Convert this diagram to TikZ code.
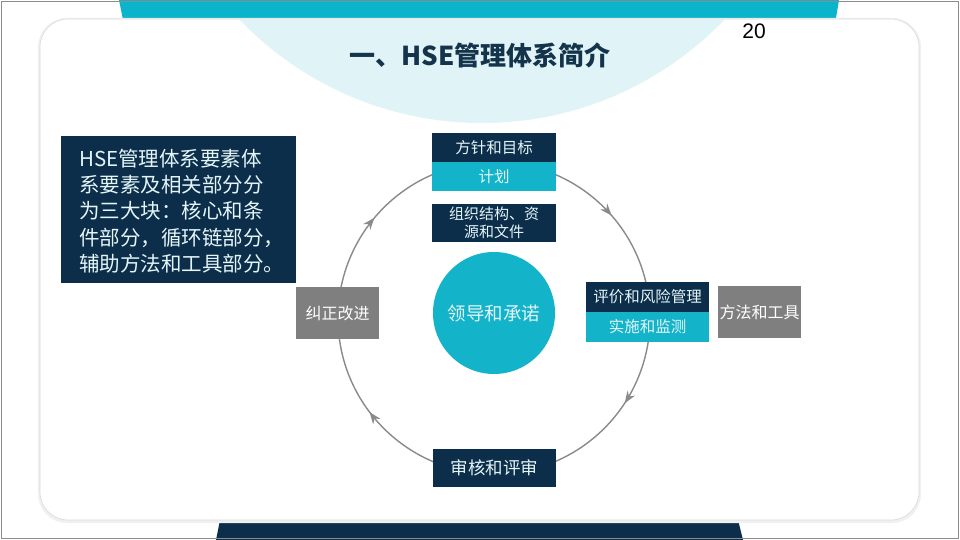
\documentclass[tikz,border=0pt]{standalone}
\usepackage{fontspec}
\newfontfamily\cjk{Noto Sans CJK SC}
\newfontfamily\numfont{Liberation Sans}
\usetikzlibrary{decorations.markings,arrows.meta}
\definecolor{navy}{HTML}{0C2E4A}
\definecolor{teal}{HTML}{13B3C9}
\definecolor{bandteal}{HTML}{0BB3CB}
\definecolor{pale}{HTML}{E0F3F6}
\definecolor{boxgray}{HTML}{7F7F7F}
\definecolor{ringgray}{HTML}{8A8A8A}
\definecolor{titlecol}{HTML}{14344B}
\definecolor{lighttxt}{HTML}{E4F5F8}
\tikzset{
  box/.style={rectangle, inner sep=0pt, text=lighttxt, font=\cjk\fontsize{15.5}{18}\selectfont, align=center},
  navybox/.style={box, fill=navy},
  tealbox/.style={box, fill=teal},
  graybox/.style={box, fill=boxgray, text=white},
  ring/.style={draw=ringgray, line width=1.4pt,
    postaction={decorate},
    decoration={markings,
      mark=at position 0.136 with {\arrow{Stealth[length=12pt,width=9pt]}},
      mark=at position 0.342 with {\arrow{Stealth[length=12pt,width=9pt]}},
      mark=at position 0.647 with {\arrow{Stealth[length=12pt,width=9pt]}},
      mark=at position 0.861 with {\arrow{Stealth[length=12pt,width=9pt]}}}}
}
\begin{document}
\begin{tikzpicture}[x=1pt,y=1pt]
\useasboundingbox (0,0) rectangle (960,-540);
\fill[white] (0,0) rectangle (960,-540);
% top teal band
\fill[bandteal] (119,0) -- (839,0) -- (834,-30) -- (125,-30) -- cycle;
% bottom navy band
\fill[navy] (220,-520) -- (738,-520) -- (743,-540) -- (216,-540) -- cycle;
% card shadow and card
\fill[black!6, rounded corners=29pt] (38,-18) rectangle (921,-523);
\fill[white, draw=black!15, line width=0.6pt, rounded corners=28pt] (40,-19) rectangle (919,-520);
% pale circle inside card
\begin{scope}
  \clip[rounded corners=28pt] (40,-19) rectangle (919,-520);
  \fill[pale] (482,213) circle[radius=336];
\end{scope}
% outer frame
\draw[black!45, line width=0.8pt] (1,-1) rectangle (958,-538);
% page number
\node[font=\numfont\fontsize{21}{24}\selectfont, text=black] (pnum) at (754,-31) {20};
% title
\node[font=\cjk\bfseries\fontsize{26}{30}\selectfont, text=titlecol] (title) at (480,-55) {一、HSE管理体系简介};
% ring
\coordinate (ringc) at (494,-318);
\draw[ring] (ringc) ++(90:156) arc[start angle=90, end angle=-270, radius=156];
% boxes
\node[navybox, minimum width=124pt, minimum height=29pt] (aim) at (494,-147.5) {方针和目标};
\node[tealbox, minimum width=124pt, minimum height=29pt] (plan) at (494,-176.5) {计划};
\node[navybox, minimum width=124pt, minimum height=38pt, font=\cjk\fontsize{15}{18}\selectfont] (org) at (494,-223) {组织结构、资\\源和文件};
\node[circle, fill=teal, minimum size=122pt, inner sep=0pt, text=lighttxt, font=\cjk\fontsize{18.5}{22}\selectfont] (lead) at (494,-313) {领导和承诺};
\node[navybox, minimum width=123pt, minimum height=30pt] (evalt) at (647.5,-297) {评价和风险管理};
\node[tealbox, minimum width=123pt, minimum height=30pt] (evalb) at (647.5,-327) {实施和监测};
\node[graybox, minimum width=83pt, minimum height=52pt, font=\cjk\fontsize{16}{19}\selectfont] (tool) at (759.5,-312) {方法和工具};
\node[graybox, minimum width=83pt, minimum height=52pt, font=\cjk\fontsize{16}{19}\selectfont] (correct) at (337.5,-313) {纠正改进};
\node[navybox, minimum width=123pt, minimum height=38pt, font=\cjk\fontsize{17.5}{20}\selectfont] (audit) at (494.5,-468) {审核和评审};
% note box
\node[fill=navy, minimum width=235pt, minimum height=147pt, inner sep=0pt] (note) at (178.5,-209.5) {};
\node[anchor=west, text=lighttxt, font=\cjk\fontsize{20.5}{26.2}\selectfont, align=left, inner sep=0pt] (notetext) at (79,-211) {HSE管理体系要素体\\系要素及相关部分分\\为三大块：核心和条\\件部分，循环链部分，\\辅助方法和工具部分。};
\end{tikzpicture}
\end{document}
